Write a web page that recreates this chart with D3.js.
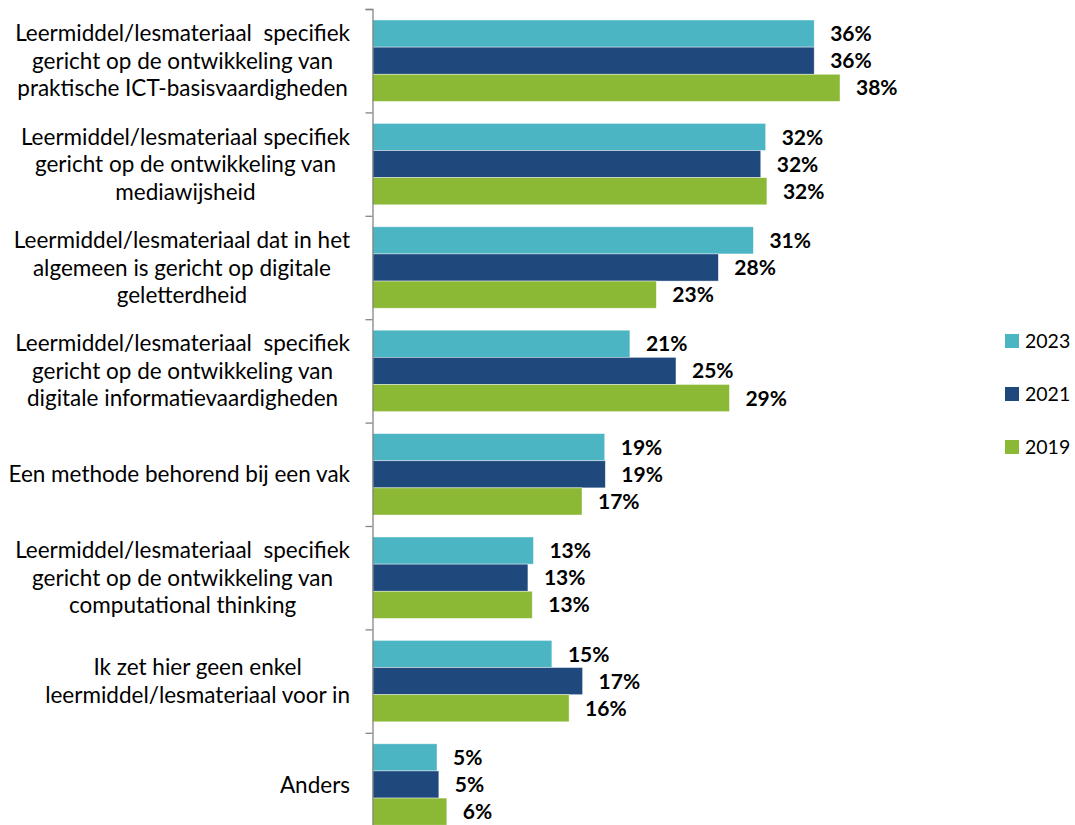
<!DOCTYPE html>
<html>
<head>
<meta charset="utf-8">
<script src="https://cdn.jsdelivr.net/npm/d3@7"></script>
<style>
  body { margin: 0; background: #fff; }
  text { font-family: Lato, "Open Sans", sans-serif; fill: #000; white-space: pre; }
</style>
</head>
<body>
<script>
var categories = [
  ["Leermiddel/lesmateriaal  specifiek", "gericht op de ontwikkeling van", "praktische ICT-basisvaardigheden"],
  ["Leermiddel/lesmateriaal specifiek", "gericht op de ontwikkeling van", "mediawijsheid"],
  ["Leermiddel/lesmateriaal dat in het", "algemeen is gericht op digitale", "geletterdheid"],
  ["Leermiddel/lesmateriaal  specifiek", "gericht op de ontwikkeling van", "digitale informatievaardigheden"],
  ["Een methode behorend bij een vak"],
  ["Leermiddel/lesmateriaal  specifiek", "gericht op de ontwikkeling van", "computational thinking"],
  ["Ik zet hier geen enkel", "leermiddel/lesmateriaal voor in"],
  ["Anders"]
]
var seriesNames = ["2023", "2021", "2019"]
var seriesColors = ["#4bb5c4", "#1f497d", "#8bb835"]
var values2023 = [35.95, 32.0, 31.0, 20.95, 18.9, 13.1, 14.6, 5.25]
var values2021 = [35.95, 31.6, 28.15, 24.7, 18.95, 12.65, 17.1, 5.4]
var values2019 = [38.05, 32.1, 23.1, 29.05, 17.05, 13.0, 16.0, 6.05]
var seriesValues = [values2023, values2021, values2019]

var svg = d3.select("body").append("svg")
  .attr("width", 1075)
  .attr("height", 825)

var axisX = 372.5
var bandH = 103.4
var y = d3.scaleBand()
  .domain(d3.range(categories.length))
  .range([9, 9 + categories.length * bandH])

var inner = d3.scaleBand()
  .domain(d3.range(seriesNames.length))
  .range([11, bandH - 11])

var x = d3.scaleLinear().domain([0, 38.05]).range([axisX, 840])

var fmt = function(v) { return Math.round(v) + "%" }

// bars
var groups = svg.selectAll("g.cat")
  .data(categories)
  .enter()
  .append("g")
  .attr("class", "cat")
  .attr("transform", function(d, i) { return "translate(0," + y(i) + ")" })

groups.each(function(d, i) {
  var g = d3.select(this)
  var rows = seriesValues.map(function(s, k) { return {k: k, v: s[i]} })
  g.selectAll("rect")
    .data(rows)
    .enter()
    .append("rect")
    .attr("x", axisX)
    .attr("y", function(r) { return inner(r.k) })
    .attr("width", function(r) { return x(r.v) - axisX })
    .attr("height", inner.bandwidth())
    .attr("fill", function(r) { return seriesColors[r.k] })
    .attr("stroke", "#ffffff")
    .attr("stroke-opacity", 0.6)
    .attr("stroke-width", 0.7)
  g.selectAll("text.val")
    .data(rows)
    .enter()
    .append("text")
    .attr("class", "val")
    .attr("x", function(r) { return x(r.v) + 16 })
    .attr("y", function(r) { return inner(r.k) + inner.bandwidth() / 2 })
    .attr("dy", "0.36em")
    .style("font-size", "21px")
    .style("font-weight", "bold")
    .text(function(r) { return fmt(r.v) })
})

// axis
var axis = d3.axisLeft(d3.scaleLinear().domain([0, 8]).range([9, 9 + 8 * bandH]))
  .tickValues(d3.range(0, 9))
  .tickSize(7)
  .tickFormat("")
var ax = svg.append("g")
  .attr("transform", "translate(" + axisX + ",0)")
  .call(axis)
ax.select(".domain").attr("stroke", "#868686").attr("stroke-width", 1.3)
ax.selectAll(".tick line").attr("stroke", "#868686").attr("stroke-width", 1.3)

// category labels, lines centred, block right-aligned at 350
var lineH = 27.5
groups.each(function(lines, i) {
  var g = d3.select(this)
  var t = g.append("text")
    .style("font-size", "22.5px")
    .attr("text-anchor", "middle")
  var n = lines.length
  lines.forEach(function(line, j) {
    t.append("tspan")
      .attr("y", bandH / 2 + (j - (n - 1) / 2) * lineH)
      .attr("dy", "0.36em")
      .text(line)
  })
  var w = 0
  t.selectAll("tspan").each(function() { w = Math.max(w, this.getComputedTextLength()) })
  t.selectAll("tspan").attr("x", 350 - w / 2)
})

// legend
var legend = svg.selectAll("g.leg")
  .data(seriesNames)
  .enter()
  .append("g")
  .attr("class", "leg")
  .attr("transform", function(d, i) { return "translate(1005," + (341 + i * 53) + ")" })
legend.append("rect")
  .attr("x", 0).attr("y", -7)
  .attr("width", 14).attr("height", 14)
  .attr("fill", function(d, i) { return seriesColors[i] })
legend.append("text")
  .attr("x", 20)
  .attr("dy", "0.36em")
  .style("font-size", "19.5px")
  .text(function(d) { return d })
</script>
</body>
</html>
